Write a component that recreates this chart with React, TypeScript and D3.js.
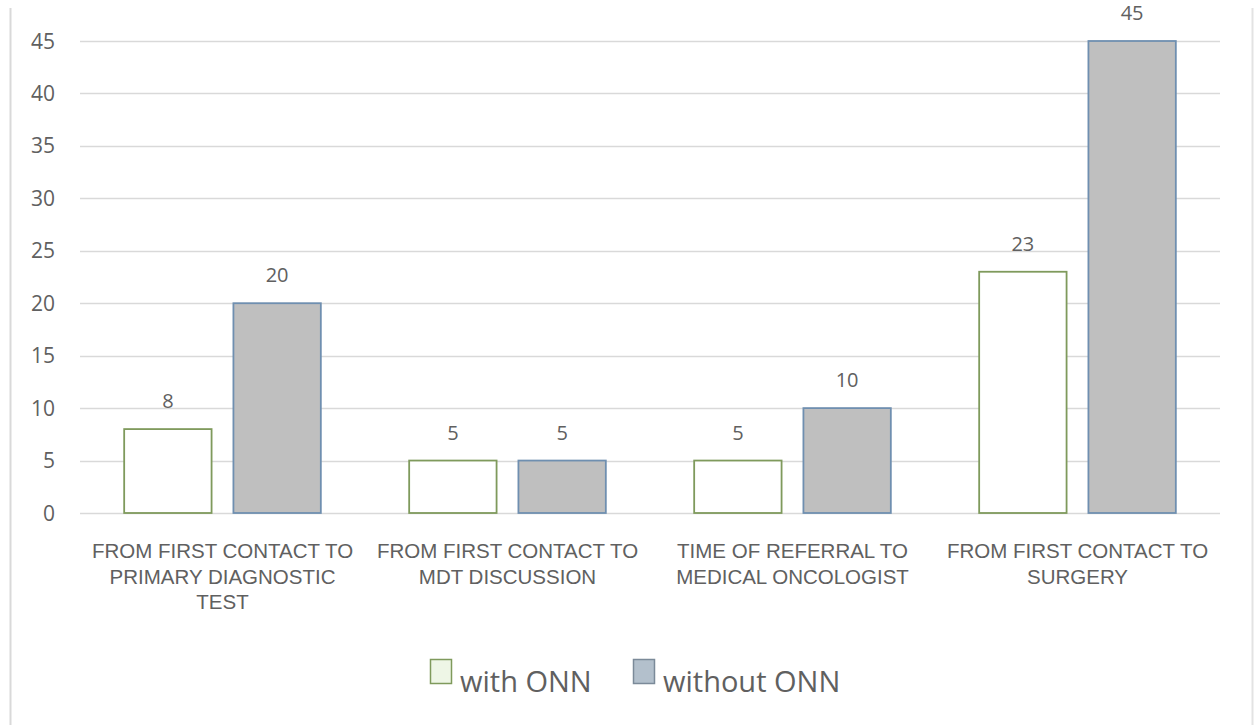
import { useEffect, useRef } from "react";
import * as d3 from "d3";

// chart data
const categories = [
  ["FROM FIRST CONTACT TO", "PRIMARY DIAGNOSTIC", "TEST"],
  ["FROM FIRST CONTACT TO", "MDT DISCUSSION"],
  ["TIME OF REFERRAL TO", "MEDICAL ONCOLOGIST"],
  ["FROM FIRST CONTACT TO", "SURGERY"],
];
const withOnn = [8, 5, 5, 23];
const withoutOnn = [20, 5, 10, 45];
const seriesNames = ["with ONN", "without ONN"];
const yTicks = [0, 5, 10, 15, 20, 25, 30, 35, 40, 45];

const width = 1256;
const height = 725;
const margin = { top: 41, right: 36, bottom: 212, left: 80 };
const font = "'Open Sans', 'Noto Sans', sans-serif";
const labelFont = "'Liberation Sans', Arial, sans-serif";
const textColor = "#606060";

const barStyles = [
  { fill: "#ffffff", stroke: "#7f9a5c", legendFill: "#eef6e6", legendStroke: "#7f9a5c" },
  { fill: "#bfbfbf", stroke: "#6f8fb0", legendFill: "#b3c0cc", legendStroke: "#7b8a99" },
];

export default function App() {
  const ref = useRef<SVGSVGElement>(null);

  useEffect(() => {
    const svg = d3.select(ref.current);
    svg.selectAll("*").remove();

    const innerW = width - margin.left - margin.right;
    const innerH = height - margin.top - margin.bottom;

    // frame lines on the left and right
    svg.append("line").attr("x1", 10.5).attr("x2", 10.5).attr("y1", 8).attr("y2", height)
      .attr("stroke", "#d9d9d9").attr("stroke-width", 2);
    svg.append("line").attr("x1", 1252.5).attr("x2", 1252.5).attr("y1", 8).attr("y2", height)
      .attr("stroke", "#e3e3e3").attr("stroke-width", 2);

    const g = svg.append("g").attr("transform", `translate(${margin.left},${margin.top})`);

    const x0 = d3.scaleBand<number>()
      .domain(categories.map((_, i) => i))
      .range([0, innerW])
      .paddingInner(0.31)
      .paddingOuter(0.155);
    const x1 = d3.scaleBand<number>()
      .domain([0, 1])
      .range([0, x0.bandwidth()])
      .paddingInner(0.2);
    const y = d3.scaleLinear().domain([0, 45]).range([innerH, 0]);

    // gridlines
    g.selectAll("line.grid")
      .data(yTicks)
      .join("line")
      .attr("class", "grid")
      .attr("x1", 0)
      .attr("x2", innerW)
      .attr("y1", d => Math.round(y(d)) + 0.5)
      .attr("y2", d => Math.round(y(d)) + 0.5)
      .attr("stroke", "#d9d9d9")
      .attr("stroke-width", 1.5);

    // y tick labels
    g.selectAll("text.ytick")
      .data(yTicks)
      .join("text")
      .attr("class", "ytick")
      .attr("x", -25)
      .attr("y", d => y(d))
      .attr("dy", "0.36em")
      .attr("text-anchor", "end")
      .attr("font-family", font)
      .attr("font-size", 21)
      .attr("fill", textColor)
      .text(d => d);

    const series = [withOnn, withoutOnn];
    series.forEach((vals, s) => {
      const st = barStyles[s];
      const bars = g.append("g");
      bars.selectAll("rect")
        .data(vals)
        .join("rect")
        .attr("x", (_, i) => x0(i)! + x1(s)!)
        .attr("y", d => y(d))
        .attr("width", x1.bandwidth())
        .attr("height", d => innerH - y(d))
        .attr("fill", st.fill)
        .attr("stroke", st.stroke)
        .attr("stroke-width", 1.8);
      bars.selectAll("text")
        .data(vals)
        .join("text")
        .attr("x", (_, i) => x0(i)! + x1(s)! + x1.bandwidth() / 2)
        .attr("y", d => y(d) - 21)
        .attr("text-anchor", "middle")
        .attr("font-family", font)
        .attr("font-size", 20)
        .attr("fill", textColor)
        .text(d => d);
    });

    // category labels, one text per line
    categories.forEach((lines, i) => {
      g.append("g")
        .attr("transform", `translate(${x0(i)! + x0.bandwidth() / 2},${innerH + 45})`)
        .selectAll("text")
        .data(lines)
        .join("text")
        .attr("x", 0)
        .attr("y", (_, k) => k * 25.5)
        .attr("text-anchor", "middle")
        .attr("font-family", labelFont)
        .attr("font-size", 20.5)
        .attr("fill", textColor)
        .text(d => d);
    });

    // legend
    const legend = svg.append("g").attr("transform", "translate(430,659)");
    const offsets = [0, 203];
    seriesNames.forEach((name, s) => {
      const item = legend.append("g").attr("transform", `translate(${offsets[s]},0)`);
      item.append("rect")
        .attr("x", 0.5).attr("y", 0.5)
        .attr("width", 21).attr("height", 24)
        .attr("fill", barStyles[s].legendFill)
        .attr("stroke", barStyles[s].legendStroke)
        .attr("stroke-width", 1.5);
      item.append("text")
        .attr("x", 30)
        .attr("y", 33)
        .attr("font-family", font)
        .attr("font-size", 29)
        .attr("fill", textColor)
        .text(name);
    });
  }, []);

  return (
    <svg
      ref={ref}
      width={width}
      height={height}
      style={{ position: "absolute", left: 0, top: 0, background: "#fff" }}
    />
  );
}
